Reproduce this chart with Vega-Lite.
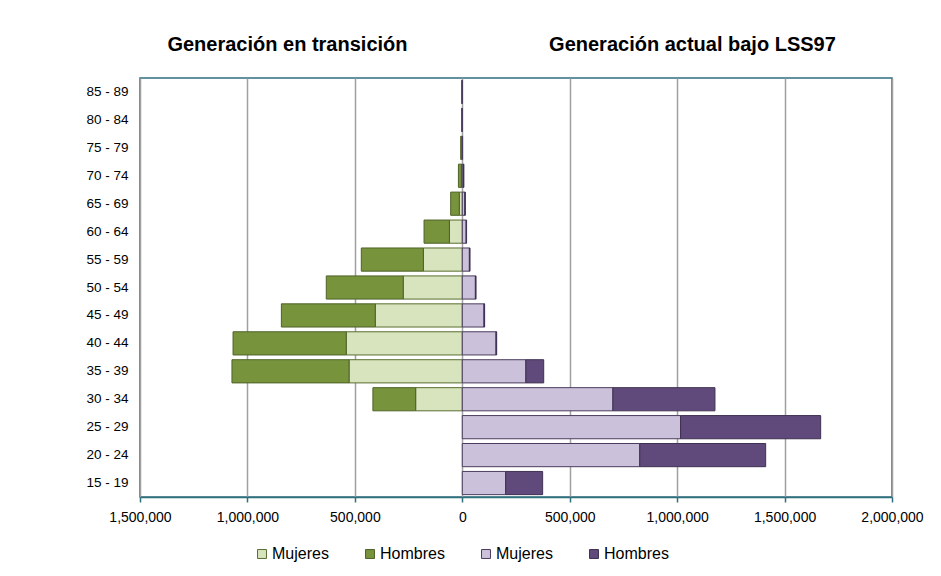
{
  "$schema": "https://vega.github.io/schema/vega-lite/v6.json",
  "width": 752,
  "height": 419,
  "autosize": {"type": "none"},
  "padding": {"left": 140, "top": 78, "right": 49, "bottom": 79},
  "background": "white",
  "config": {
    "font": "Liberation Sans",
    "view": {"stroke": "#2f6f7e", "strokeWidth": 1.5}
  },
  "datasets": {
    "pop": [
      {"edad": "85 - 89", "grupo": "T-Mujeres", "orden": 0, "valor": -1000},
      {"edad": "85 - 89", "grupo": "T-Hombres", "orden": 1, "valor": -1500},
      {"edad": "80 - 84", "grupo": "T-Mujeres", "orden": 0, "valor": -1500},
      {"edad": "80 - 84", "grupo": "T-Hombres", "orden": 1, "valor": -2000},
      {"edad": "75 - 79", "grupo": "T-Mujeres", "orden": 0, "valor": -2500},
      {"edad": "75 - 79", "grupo": "T-Hombres", "orden": 1, "valor": -5000},
      {"edad": "70 - 74", "grupo": "T-Mujeres", "orden": 0, "valor": -4000},
      {"edad": "70 - 74", "grupo": "T-Hombres", "orden": 1, "valor": -14000},
      {"edad": "65 - 69", "grupo": "T-Mujeres", "orden": 0, "valor": -14000},
      {"edad": "65 - 69", "grupo": "T-Hombres", "orden": 1, "valor": -40000},
      {"edad": "60 - 64", "grupo": "T-Mujeres", "orden": 0, "valor": -60000},
      {"edad": "60 - 64", "grupo": "T-Hombres", "orden": 1, "valor": -118000},
      {"edad": "55 - 59", "grupo": "T-Mujeres", "orden": 0, "valor": -181000},
      {"edad": "55 - 59", "grupo": "T-Hombres", "orden": 1, "valor": -289000},
      {"edad": "50 - 54", "grupo": "T-Mujeres", "orden": 0, "valor": -275000},
      {"edad": "50 - 54", "grupo": "T-Hombres", "orden": 1, "valor": -358000},
      {"edad": "45 - 49", "grupo": "T-Mujeres", "orden": 0, "valor": -405000},
      {"edad": "45 - 49", "grupo": "T-Hombres", "orden": 1, "valor": -437000},
      {"edad": "40 - 44", "grupo": "T-Mujeres", "orden": 0, "valor": -540000},
      {"edad": "40 - 44", "grupo": "T-Hombres", "orden": 1, "valor": -527000},
      {"edad": "35 - 39", "grupo": "T-Mujeres", "orden": 0, "valor": -527000},
      {"edad": "35 - 39", "grupo": "T-Hombres", "orden": 1, "valor": -545000},
      {"edad": "30 - 34", "grupo": "T-Mujeres", "orden": 0, "valor": -217000},
      {"edad": "30 - 34", "grupo": "T-Hombres", "orden": 1, "valor": -199000},
      {"edad": "85 - 89", "grupo": "A-Mujeres", "orden": 0, "valor": 500},
      {"edad": "80 - 84", "grupo": "A-Mujeres", "orden": 0, "valor": 700},
      {"edad": "75 - 79", "grupo": "A-Mujeres", "orden": 0, "valor": 1500},
      {"edad": "70 - 74", "grupo": "A-Mujeres", "orden": 0, "valor": 6000},
      {"edad": "70 - 74", "grupo": "A-Hombres", "orden": 1, "valor": 1000},
      {"edad": "65 - 69", "grupo": "A-Mujeres", "orden": 0, "valor": 12000},
      {"edad": "65 - 69", "grupo": "A-Hombres", "orden": 1, "valor": 2000},
      {"edad": "60 - 64", "grupo": "A-Mujeres", "orden": 0, "valor": 18000},
      {"edad": "60 - 64", "grupo": "A-Hombres", "orden": 1, "valor": 2000},
      {"edad": "55 - 59", "grupo": "A-Mujeres", "orden": 0, "valor": 33000},
      {"edad": "55 - 59", "grupo": "A-Hombres", "orden": 1, "valor": 3000},
      {"edad": "50 - 54", "grupo": "A-Mujeres", "orden": 0, "valor": 61000},
      {"edad": "50 - 54", "grupo": "A-Hombres", "orden": 1, "valor": 3000},
      {"edad": "45 - 49", "grupo": "A-Mujeres", "orden": 0, "valor": 101000},
      {"edad": "45 - 49", "grupo": "A-Hombres", "orden": 1, "valor": 3000},
      {"edad": "40 - 44", "grupo": "A-Mujeres", "orden": 0, "valor": 157000},
      {"edad": "40 - 44", "grupo": "A-Hombres", "orden": 1, "valor": 3000},
      {"edad": "35 - 39", "grupo": "A-Mujeres", "orden": 0, "valor": 296000},
      {"edad": "35 - 39", "grupo": "A-Hombres", "orden": 1, "valor": 83000},
      {"edad": "30 - 34", "grupo": "A-Mujeres", "orden": 0, "valor": 701000},
      {"edad": "30 - 34", "grupo": "A-Hombres", "orden": 1, "valor": 475000},
      {"edad": "25 - 29", "grupo": "A-Mujeres", "orden": 0, "valor": 1016000},
      {"edad": "25 - 29", "grupo": "A-Hombres", "orden": 1, "valor": 652000},
      {"edad": "20 - 24", "grupo": "A-Mujeres", "orden": 0, "valor": 826000},
      {"edad": "20 - 24", "grupo": "A-Hombres", "orden": 1, "valor": 586000},
      {"edad": "15 - 19", "grupo": "A-Mujeres", "orden": 0, "valor": 202000},
      {"edad": "15 - 19", "grupo": "A-Hombres", "orden": 1, "valor": 172000}
    ],
    "titulos": [
      {"pos": -816000, "titulo": "Generación en transición"},
      {"pos": 1069000, "titulo": "Generación actual bajo LSS97"}
    ]
  },
  "layer": [
    {
      "data": {"name": "pop"},
      "mark": {"type": "bar", "strokeWidth": 1},
      "encoding": {
        "y": {
          "field": "edad",
          "type": "nominal",
          "sort": ["85 - 89","80 - 84","75 - 79","70 - 74","65 - 69","60 - 64","55 - 59","50 - 54","45 - 49","40 - 44","35 - 39","30 - 34","25 - 29","20 - 24","15 - 19"],
          "scale": {"paddingInner": 0.17, "paddingOuter": 0.085},
          "axis": {
            "title": null,
            "ticks": false,
            "domain": false,
            "labelFontSize": 13.5,
            "labelColor": "#000000",
            "labelPadding": 12
          }
        },
        "x": {
          "field": "valor",
          "type": "quantitative",
          "stack": "zero",
          "scale": {"domain": [-1500000, 2000000], "nice": false, "zero": false},
          "axis": {
            "title": null,
            "values": [-1500000, -1000000, -500000, 0, 500000, 1000000, 1500000, 2000000],
            "labelExpr": "format(abs(datum.value), ',')",
            "labelFontSize": 14,
            "labelColor": "#000000",
            "labelPadding": 8,
            "tickColor": "#2f6f7e",
            "tickSize": 5,
            "tickWidth": 1.5,
            "domainColor": "#2f6f7e",
            "domainWidth": 1.5,
            "gridColor": "#a0a0a0",
            "gridWidth": 1.5,
            "labelFlush": false
          }
        },
        "order": {"field": "orden", "type": "quantitative"},
        "fill": {
          "field": "grupo",
          "type": "nominal",
          "scale": {
            "domain": ["T-Mujeres", "T-Hombres", "A-Mujeres", "A-Hombres"],
            "range": ["#d7e4bd", "#77933c", "#ccc1da", "#604a7b"]
          },
          "legend": {
            "title": null,
            "orient": "none",
            "legendX": 114,
            "legendY": 468,
            "direction": "horizontal",
            "labelExpr": "split(datum.label, '-')[1]",
            "labelFontSize": 16,
            "labelColor": "#000000",
            "labelLimit": 0,
            "symbolType": "square",
            "symbolSize": 80,
            "symbolStrokeWidth": 1,
            "labelOffset": 2,
            "columnPadding": 33
          }
        },
        "stroke": {
          "field": "grupo",
          "type": "nominal",
          "scale": {
            "domain": ["T-Mujeres", "T-Hombres", "A-Mujeres", "A-Hombres"],
            "range": ["#5a6e30", "#4f6228", "#4a3c5e", "#3f3151"]
          },
          "legend": {
            "title": null,
            "orient": "none",
            "legendX": 114,
            "legendY": 468,
            "direction": "horizontal",
            "labelExpr": "split(datum.label, '-')[1]",
            "labelFontSize": 16,
            "labelColor": "#000000",
            "labelLimit": 0,
            "symbolType": "square",
            "symbolSize": 80,
            "symbolStrokeWidth": 1,
            "labelOffset": 2,
            "columnPadding": 33
          }
        }
      }
    },
    {
      "data": {"name": "titulos"},
      "mark": {"type": "point", "opacity": 0},
      "encoding": {
        "x": {
          "field": "pos",
          "type": "quantitative",
          "axis": {
            "orient": "top",
            "title": null,
            "values": [-816000, 1069000],
            "labelExpr": "datum.value < 0 ? 'Generación en transición' : 'Generación actual bajo LSS97'",
            "labelFontSize": 20,
            "labelFontWeight": "bold",
            "labelColor": "#000000",
            "labelLimit": 0,
            "labelPadding": 24,
            "ticks": false,
            "domain": false,
            "grid": false,
            "labelFlush": false,
            "labelOverlap": false
          }
        }
      }
    }
  ],
  "resolve": {"axis": {"x": "independent"}}
}
